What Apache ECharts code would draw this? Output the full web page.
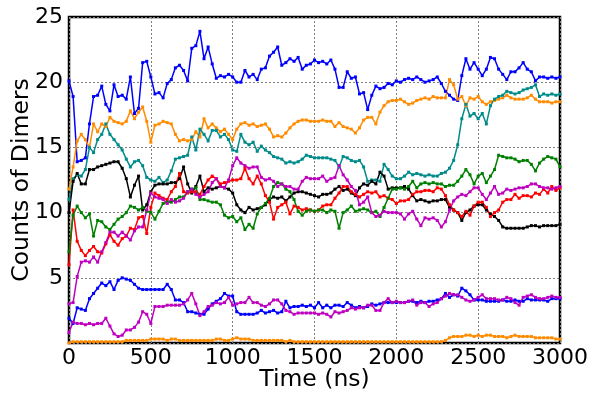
<!DOCTYPE html>
<html>
<head>
<meta charset="utf-8">
<script src="https://cdn.jsdelivr.net/npm/echarts@6/dist/echarts.min.js"></script>
<style>
  html, body { margin: 0; padding: 0; background: #fff; }
  #chart { width: 592px; height: 393px; }
</style>
</head>
<body>
<div id="chart"></div>
<script>
// Sampling step of the trajectories (ns); 121 frames from 0 to 3000 ns
const STEP = 25;
const NFRAMES = 121;

const xTicks = [0, 500, 1000, 1500, 2000, 2500, 3000];
const yTicks = [5, 10, 15, 20, 25];

// Dimer counts per frame, one array per trajectory
const blueHigh = [
  20.1, 18.9, 13.9, 14.0, 14.2, 16.8, 18.9, 19.0, 19.7, 18.3,
  17.8, 19.8, 18.9, 19.0, 18.7, 20.4, 17.6, 18.0, 21.5, 21.6,
  20.4, 19.1, 19.2, 18.8, 19.9, 20.2, 21.1, 21.3, 20.9, 20.1,
  22.6, 22.8, 23.9, 21.8, 22.7, 21.4, 20.3, 20.5, 20.4, 20.6,
  20.4, 20.0, 20.0, 20.9, 20.4, 20.6, 20.2, 21.0, 21.1, 22.0,
  22.3, 22.7, 21.3, 21.5, 21.8, 21.6, 21.9, 21.0, 21.3, 21.4,
  21.7, 21.5, 21.6, 21.4, 21.7, 21.0, 19.6, 19.6, 20.8, 20.3,
  20.4, 19.1, 19.2, 17.9, 19.0, 19.7, 19.5, 19.6, 19.9, 19.8,
  20.1, 20.0, 20.2, 20.3, 20.2, 20.4, 20.2, 20.0, 20.1, 20.2,
  20.4, 19.9, 19.3, 19.0, 18.7, 18.6, 20.5, 21.8, 21.0, 21.5,
  21.0, 20.5, 21.0, 21.9, 21.8, 21.0, 20.6, 20.2, 20.8, 20.8,
  21.1, 21.5, 21.0, 20.8, 20.1, 20.4, 20.4, 20.3, 20.4, 20.3,
  20.4
];
const orangeHigh = [
  11.8, 13.5, 15.5, 16.0, 15.6, 15.0, 16.8, 16.2, 16.8, 16.6,
  17.3, 17.0, 16.9, 16.8, 17.0, 17.8, 17.2, 17.7, 18.1, 17.0,
  15.4, 16.7, 16.8, 17.0, 16.9, 16.8, 16.0, 15.5, 15.6, 15.5,
  15.6, 16.2, 15.8, 17.2, 16.5, 16.8, 16.5, 16.2, 16.4, 16.0,
  15.6, 16.4, 16.8, 16.9, 16.7, 16.8, 16.6, 16.7, 16.8, 16.4,
  15.8, 15.9, 15.8, 16.1, 16.5, 16.8, 17.0, 17.1, 17.1, 17.0,
  17.0, 17.0, 17.1, 17.0, 17.0, 16.6, 16.9, 16.6, 16.5, 16.4,
  16.1, 16.5, 17.1, 17.3, 17.3, 16.8, 17.7, 18.2, 18.5, 18.6,
  18.6, 18.7, 18.5, 18.3, 18.4, 18.6, 18.7, 18.8, 18.7, 18.9,
  18.8, 18.8, 18.8, 20.2, 19.8, 18.7, 18.9, 18.2, 18.8, 18.7,
  18.9, 18.5, 18.3, 18.5, 18.6, 18.7, 18.8, 19.0, 18.8, 18.7,
  18.7, 18.7, 18.8, 19.0, 18.7, 18.5, 18.5, 18.5, 18.4, 18.5,
  18.5
];
const teal = [
  11.0, 12.6, 12.9, 12.8, 13.3, 15.0, 14.6, 15.6, 16.0, 16.8,
  16.0, 15.6, 15.2, 14.8, 14.1, 13.5, 13.9, 14.0, 13.6, 12.7,
  12.5, 12.4, 12.7, 12.3, 12.5, 13.2, 14.1, 14.2, 14.3, 14.4,
  15.8, 14.8, 16.4, 16.0, 15.5, 16.3, 16.3, 15.8, 16.0, 15.6,
  14.8, 14.7, 16.0, 15.4, 15.2, 15.4, 14.7, 15.1, 14.8, 14.6,
  14.3, 14.2, 14.1, 13.8, 13.9, 13.8, 13.9, 14.1, 14.4, 14.3,
  14.2, 14.2, 14.2, 14.2, 14.1, 14.0, 13.5, 14.3, 14.2, 14.0,
  13.9, 14.0, 13.5, 12.4, 12.5, 12.5, 12.4, 13.7, 13.3, 12.8,
  12.6, 12.6, 12.8, 13.1, 12.9, 13.0, 12.9, 12.8, 12.9, 12.8,
  12.8, 13.0, 13.1, 13.4, 14.0, 15.2, 17.2, 18.3, 17.4, 17.6,
  17.2, 17.6, 16.8, 18.2, 18.7, 18.9, 19.0, 19.3, 19.2, 19.1,
  19.2, 19.4, 19.5, 19.6, 19.8, 18.9, 19.1, 19.0, 19.1, 19.0,
  19.1
];
const black = [
  10.0, 12.4, 13.0, 12.2, 12.2, 13.3, 13.3, 13.5, 13.6, 13.7,
  13.8, 13.9, 13.9, 13.4, 12.6, 11.2, 12.1, 12.8, 10.2, 10.6,
  11.6, 12.1, 12.2, 12.2, 12.2, 12.3, 12.3, 12.6, 13.5, 12.2,
  11.5, 12.0, 12.8, 11.6, 11.9, 11.8, 11.9, 12.0, 11.9, 11.8,
  11.5, 10.6, 10.2, 10.0, 10.4, 10.2, 10.3, 10.4, 10.6, 11.0,
  11.2, 11.1, 11.2, 10.9, 11.2, 11.5, 11.6, 11.6, 11.5, 11.4,
  11.3, 11.2, 11.4, 11.4, 11.5, 11.8, 12.0, 11.7, 11.8, 11.5,
  11.3, 11.9, 12.2, 12.1, 12.4, 12.2, 13.1, 12.8, 11.8, 11.9,
  11.9, 11.9, 12.0, 11.8, 11.3, 10.9, 11.0, 10.9, 10.8, 10.9,
  10.9, 11.0, 11.0, 10.4, 10.2, 10.0, 9.4, 10.0, 10.2, 10.5,
  10.6, 10.6, 10.2, 9.9, 9.7, 9.4, 8.9, 8.8, 8.8, 8.8,
  8.8, 8.8, 8.9, 9.0, 9.0, 8.9, 9.0, 9.0, 9.0, 9.0,
  9.1
];
const red = [
  6.0, 10.2, 7.8, 7.1, 6.7, 7.1, 7.4, 7.0, 6.9, 7.6,
  8.3, 7.8, 7.5, 8.0, 8.2, 8.8, 8.7, 9.6, 9.7, 8.4,
  10.4, 11.5, 11.3, 11.1, 11.0, 11.6, 12.0, 13.0, 11.6, 11.5,
  11.6, 11.6, 11.4, 12.0, 12.5, 12.8, 12.6, 12.2, 12.3, 12.4,
  12.5, 12.5, 12.6, 13.4, 12.6, 12.2, 12.8, 12.2, 11.3, 10.8,
  9.5, 10.4, 10.6, 10.8, 9.9, 10.5, 10.4, 10.2, 10.3, 10.2,
  10.1, 10.2, 10.5, 10.6, 10.6, 11.1, 11.5, 12.0, 12.0, 11.6,
  11.4, 11.2, 11.4, 11.6, 11.5, 11.6, 11.2, 11.3, 11.1, 11.0,
  10.7, 10.9, 10.9, 11.0, 11.4, 11.6, 11.6, 11.7, 11.7, 11.6,
  11.9, 11.8, 11.3, 10.6, 10.2, 10.0, 9.7, 10.1, 9.8, 10.5,
  10.8, 10.8, 10.4, 9.7, 10.0, 10.2, 10.8, 11.0, 11.0, 11.4,
  11.1, 11.3, 11.3, 11.2, 11.5, 11.4, 11.8, 11.5, 12.0, 11.7,
  11.9
];
const green = [
  7.0, 9.8, 10.5, 10.0, 9.6, 9.9, 8.2, 9.4, 9.3, 8.9,
  8.7, 9.1, 9.5, 9.7, 10.0, 10.5, 10.4, 10.2, 10.4, 10.1,
  10.0, 9.5, 10.1, 10.7, 10.8, 10.8, 11.0, 11.2, 11.2, 11.6,
  11.8, 11.9, 11.0, 11.0, 10.9, 10.8, 10.8, 10.6, 9.8, 9.6,
  9.7, 9.3, 9.6, 8.7, 9.1, 8.8, 9.9, 10.4, 10.7, 11.1,
  12.0, 12.3, 12.2, 11.8, 11.6, 11.0, 10.1, 9.8, 10.1, 10.2,
  10.1, 10.2, 10.2, 10.0, 10.2, 10.1, 8.8, 10.0, 10.2, 10.5,
  10.1, 10.2, 10.3, 10.2, 10.0, 10.1, 9.7, 10.4, 11.1, 11.8,
  11.8, 11.9, 11.8, 12.0, 12.4, 11.9, 12.2, 12.3, 12.2, 12.3,
  12.2, 12.2, 12.0, 12.1, 12.1, 12.4, 12.8, 13.3, 12.9, 12.2,
  12.8, 13.0, 12.3, 12.8, 13.3, 14.4, 14.3, 14.2, 14.2, 14.1,
  13.9, 14.0, 14.0, 13.7, 13.2, 13.8, 14.1, 14.3, 14.2, 14.1,
  13.5
];
const magentaHigh = [
  3.0, 3.1, 5.1, 6.2, 6.3, 6.2, 6.6, 6.2, 7.0, 7.7,
  8.5, 8.5, 8.2, 8.5, 8.2, 7.9, 8.6, 8.9, 8.9, 10.2,
  11.5, 11.2, 11.1, 11.0, 10.7, 11.0, 10.8, 10.9, 11.1, 11.6,
  11.8, 11.4, 11.2, 11.4, 11.6, 12.3, 12.6, 12.0, 11.9, 12.5,
  13.6, 14.2, 13.8, 13.6, 13.4, 13.5, 13.5, 12.7, 12.5, 12.6,
  12.4, 12.0, 12.2, 12.0, 12.0, 11.8, 11.8, 12.4, 12.7, 12.6,
  12.6, 12.6, 12.8, 12.4, 12.6, 12.7, 13.6, 12.9, 12.5, 12.0,
  11.7, 10.6, 10.8, 11.2, 10.0, 9.7, 9.8, 10.1, 10.0, 10.0,
  10.0, 9.9, 9.5, 9.9, 10.1, 9.5, 9.0, 9.6, 9.5, 9.6,
  9.4, 8.9, 9.3, 10.2, 10.9, 11.2, 11.4, 11.3, 11.6, 11.9,
  11.9, 11.4, 11.0, 11.5, 12.0, 11.4, 11.5, 11.8, 11.7, 11.8,
  11.9, 11.9, 12.0, 12.2, 12.2, 12.0, 11.9, 11.9, 11.8, 11.9,
  12.0
];
const blueLow = [
  1.9, 1.5, 2.7, 2.6, 2.5, 3.4, 3.8, 4.2, 4.6, 4.4,
  4.7, 4.1, 4.8, 5.0, 4.9, 4.8, 4.5, 4.2, 4.1, 4.1,
  4.1, 4.1, 4.1, 4.1, 4.5, 4.1, 3.3, 3.3, 3.1, 2.4,
  2.4, 2.3, 2.2, 2.2, 2.6, 3.0, 3.2, 3.4, 3.8, 3.6,
  3.6, 2.4, 2.2, 2.2, 2.2, 2.2, 2.3, 2.5, 2.3, 2.4,
  2.5, 2.3, 2.4, 3.2, 2.7, 2.8, 2.8, 2.9, 2.8, 2.9,
  2.7, 3.1, 2.7, 2.9, 2.7, 2.9, 2.9, 2.8, 3.1, 2.9,
  2.7, 2.8, 2.7, 2.8, 3.0, 2.9, 3.0, 3.1, 3.1, 3.1,
  3.1, 3.1, 3.1, 3.2, 3.2, 3.1, 3.2, 3.1, 3.2, 3.2,
  3.3, 3.4, 3.8, 3.5, 3.7, 3.6, 4.2, 4.0, 3.7, 3.3,
  3.3, 3.3, 3.2, 3.2, 3.2, 3.2, 3.3, 3.2, 3.2, 3.3,
  3.2, 3.2, 3.4, 3.3, 3.3, 3.3, 3.3, 3.2, 3.4, 3.4,
  3.4
];
const magentaLow = [
  0.8, 1.6, 1.5, 1.5, 1.4, 1.5, 1.4, 1.5, 1.5, 1.9,
  1.3, 0.7, 0.5, 0.6, 1.0, 1.0, 1.2, 1.6, 2.4, 2.2,
  1.5, 2.8, 2.8, 2.8, 2.9, 2.9, 2.9, 2.9, 3.0, 3.3,
  3.8, 3.0, 2.1, 2.4, 2.8, 2.9, 3.1, 3.0, 3.1, 3.5,
  2.9, 3.0, 3.1, 3.1, 3.5, 3.1, 3.1, 2.9, 2.8, 3.0,
  3.3, 3.3, 3.0, 2.5, 2.4, 2.2, 2.3, 2.3, 2.3, 2.3,
  2.3, 2.2, 2.3, 2.2, 2.0, 2.4, 2.3, 2.4, 2.5, 2.7,
  2.6, 2.7, 2.7, 2.9, 2.9, 2.5, 2.5, 3.1, 3.4, 3.1,
  3.2, 3.1, 3.1, 3.2, 3.3, 2.9, 3.1, 3.1, 2.8, 3.0,
  3.1, 3.4, 3.6, 3.8, 3.7, 3.7, 3.5, 3.3, 3.2, 3.3,
  3.5, 3.7, 3.4, 3.4, 3.4, 3.3, 3.3, 3.5, 3.4, 3.1,
  2.9, 3.5, 3.6, 3.7, 3.5, 3.4, 3.4, 3.5, 3.6, 3.5,
  3.5
];
const orangeLow = [
  0.0, 0.1, 0.1, 0.1, 0.1, 0.1, 0.1, 0.1, 0.1, 0.1,
  0.1, 0.1, 0.1, 0.1, 0.2, 0.2, 0.2, 0.2, 0.2, 0.2,
  0.3, 0.3, 0.3, 0.3, 0.2, 0.3, 0.3, 0.2, 0.2, 0.2,
  0.2, 0.2, 0.2, 0.2, 0.2, 0.2, 0.3, 0.3, 0.2, 0.2,
  0.3, 0.4, 0.3, 0.3, 0.3, 0.2, 0.2, 0.2, 0.2, 0.2,
  0.2, 0.2, 0.2, 0.1, 0.2, 0.1, 0.1, 0.1, 0.1, 0.1,
  0.1, 0.1, 0.1, 0.1, 0.1, 0.1, 0.1, 0.1, 0.1, 0.1,
  0.1, 0.1, 0.1, 0.1, 0.1, 0.1, 0.1, 0.1, 0.1, 0.1,
  0.1, 0.1, 0.1, 0.1, 0.1, 0.1, 0.1, 0.1, 0.1, 0.1,
  0.1, 0.1, 0.2, 0.4, 0.5, 0.5, 0.5, 0.6, 0.6, 0.5,
  0.6, 0.5, 0.6, 0.6, 0.5, 0.5, 0.5, 0.4, 0.5, 0.6,
  0.5, 0.5, 0.5, 0.5, 0.4, 0.4, 0.4, 0.4, 0.4, 0.3,
  0.3
];

const times = [];
for (let i = 0; i < NFRAMES; i++) times.push(i * STEP);

const traces = [
  { name: 'blueHigh', color: '#0000ff', values: blueHigh },
  { name: 'orangeHigh', color: '#ff8c00', values: orangeHigh },
  { name: 'teal', color: '#008b8b', values: teal },
  { name: 'black', color: '#000000', values: black },
  { name: 'red', color: '#ff0000', values: red },
  { name: 'green', color: '#008000', values: green },
  { name: 'magentaHigh', color: '#bf00bf', values: magentaHigh },
  { name: 'blueLow', color: '#0000ff', values: blueLow },
  { name: 'magentaLow', color: '#bf00bf', values: magentaLow },
  { name: 'orangeLow', color: '#ff8c00', values: orangeLow }
];

const FONT = 'DejaVu Sans';
const chart = echarts.init(document.getElementById('chart'), null, { renderer: 'canvas' });

chart.setOption({
  animation: false,
  backgroundColor: '#ffffff',
  grid: {
    left: 69, right: 32, top: 17, bottom: 50,
    outerBoundsMode: 'none',
    containLabel: false,
    show: true, borderColor: '#000', borderWidth: 2.5, backgroundColor: 'transparent'
  },
  xAxis: {
    type: 'value', min: xTicks[0], max: xTicks[xTicks.length - 1], interval: 500,
    name: 'Time (ns)', nameLocation: 'middle', nameGap: 25, nameMoveOverlap: false,
    nameTextStyle: { fontFamily: FONT, fontSize: 23.5, color: '#000' },
    axisLine: { show: false },
    axisTick: { show: false },
    axisLabel: {
      fontFamily: FONT, fontSize: 22, color: '#000', margin: 4,
      formatter: v => String(v)
    },
    splitLine: { show: true, lineStyle: { color: '#808080', width: 1, type: [2, 2] } }
  },
  yAxis: {
    type: 'value', min: 0, max: yTicks[yTicks.length - 1], interval: 5,
    name: 'Counts of Dimers', nameLocation: 'middle', nameGap: 35, nameMoveOverlap: false,
    nameTextStyle: { fontFamily: FONT, fontSize: 23.5, color: '#000' },
    axisLine: { show: false },
    axisTick: { show: false },
    axisLabel: {
      fontFamily: FONT, fontSize: 22, color: '#000', margin: 6,
      formatter: v => (yTicks.indexOf(v) >= 0 ? String(v) : '')
    },
    splitLine: { show: true, lineStyle: { color: '#808080', width: 1, type: [2, 2] } }
  },
  series: traces.map(tr => ({
    name: tr.name,
    type: 'line',
    data: times.map((t, i) => [t, tr.values[i]]),
    symbol: 'rect',
    symbolSize: 3,
    showSymbol: true,
    lineStyle: { color: tr.color, width: 1.5 },
    itemStyle: { color: tr.color },
    emphasis: { disabled: true },
    clip: true
  }))
});
</script>
</body>
</html>
